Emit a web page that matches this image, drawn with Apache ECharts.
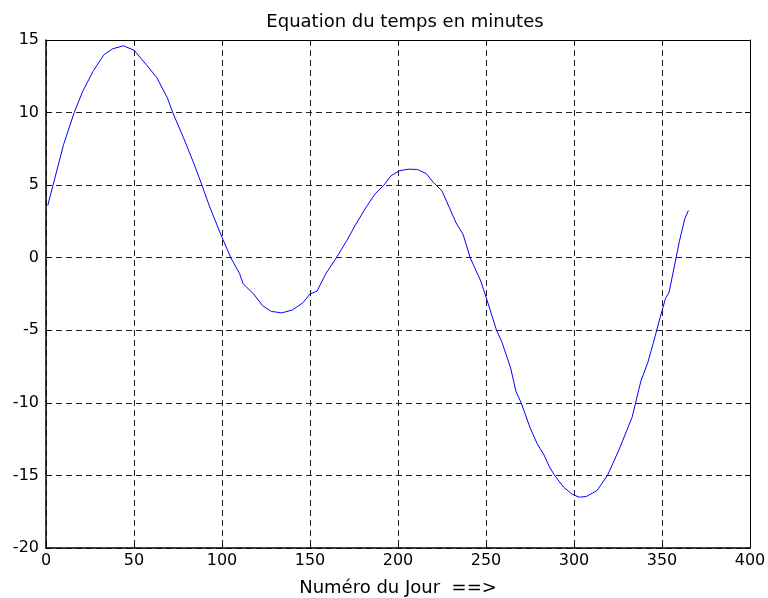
<!DOCTYPE html>
<html>
<head>
<meta charset="utf-8">
<script src="https://cdn.jsdelivr.net/npm/echarts@6/dist/echarts.min.js"></script>
<style>
  html, body { margin: 0; padding: 0; background: #fff; }
  #chart { width: 768px; height: 598px; }
</style>
</head>
<body>
<div id="chart"></div>
<script>
// day numbers
const days = [
  1, 4, 10, 16, 21, 27, 33, 38, 44, 50, 57, 63, 69, 72, 78, 84, 88, 93, 100, 105,
  110, 112, 118, 123, 128, 134, 140, 146, 150, 154, 159, 165, 171, 176, 182, 187, 192, 196, 201, 206,
  211, 216, 220, 225, 229, 233, 237, 241, 247, 250, 256, 259, 264, 267, 270, 275, 279, 283, 286, 289,
  294, 299, 303, 307, 313, 319, 322, 326, 330, 333, 335, 338, 342, 345, 347, 349, 352, 354, 358, 360,
  363, 365
];
// equation of time, minutes
const minutes = [
  3.6, 5.0, 7.8, 10.0, 11.5, 12.9, 14.0, 14.4, 14.6, 14.3, 13.3, 12.4, 11.0, 10.0, 8.3, 6.5, 5.2, 3.5, 1.4, 0.0,
  -1.1, -1.8, -2.5, -3.3, -3.7, -3.8, -3.6, -3.1, -2.5, -2.3, -1.1, 0.0, 1.2, 2.3, 3.5, 4.4, 5.0, 5.65, 6.0, 6.1,
  6.08, 5.8, 5.2, 4.6, 3.5, 2.4, 1.6, 0.0, -1.6, -2.7, -5.0, -5.8, -7.6, -9.2, -10.0, -11.7, -12.8, -13.6, -14.4, -15.0,
  -15.8, -16.3, -16.5, -16.45, -16.05, -15.0, -14.2, -13.1, -11.9, -11.0, -10.0, -8.5, -7.2, -5.9, -5.0, -4.1, -2.8, -2.4, 0.0, 1.2,
  2.7, 3.25
];

const xTicks = { min: 0, max: 400, interval: 50 };
const yTicks = { min: -20, max: 15, interval: 5 };

const font = "DejaVu Sans, Verdana, sans-serif";
const gridLine = { show: true, lineStyle: { color: "#222", type: [6, 4], width: 1 } };

const chart = echarts.init(document.getElementById("chart"), null, { renderer: "canvas" });
chart.setOption({
  animation: false,
  title: {
    text: "Equation du temps en minutes",
    left: 400,
    top: 8,
    textAlign: "center",
    textStyle: { fontFamily: font, fontSize: 18, fontWeight: "normal", color: "#000" },
  },
  grid: { left: 46, right: 18, top: 40, bottom: 50, containLabel: false, outerBoundsMode: "none" },
  xAxis: [
    {
      type: "value",
      ...xTicks,
      name: "Numéro du Jour  ==>",
      nameLocation: "middle",
      nameGap: 31,
      nameTextStyle: { fontFamily: font, fontSize: 18, color: "#000" },
      axisLine: { show: true, onZero: false, lineStyle: { color: "#000", width: 1.5 } },
      axisTick: { show: true, inside: true, length: 5, lineStyle: { color: "#000" } },
      axisLabel: { fontFamily: font, fontSize: 16, color: "#000", margin: 5 },
      splitLine: gridLine,
    },
    {
      type: "value",
      ...xTicks,
      position: "top",
      axisLine: { show: true, onZero: false, lineStyle: { color: "#000", width: 1 } },
      axisTick: { show: true, inside: true, length: 5, lineStyle: { color: "#000" } },
      axisLabel: { show: false },
      splitLine: { show: false },
    },
  ],
  yAxis: [
    {
      type: "value",
      ...yTicks,
      axisLine: { show: true, onZero: false, lineStyle: { color: "#000", width: 1.5 } },
      axisTick: { show: true, inside: true, length: 5, lineStyle: { color: "#000" } },
      axisLabel: { fontFamily: font, fontSize: 16, color: "#000", margin: 7 },
      splitLine: gridLine,
    },
    {
      type: "value",
      ...yTicks,
      position: "right",
      axisLine: { show: true, onZero: false, lineStyle: { color: "#000", width: 1 } },
      axisTick: { show: true, inside: true, length: 5, lineStyle: { color: "#000" } },
      axisLabel: { show: false },
      splitLine: { show: false },
    },
  ],
  series: [
    {
      type: "line",
      data: days.map((d, i) => [d, minutes[i]]),
      showSymbol: false,
      smooth: false,
      lineStyle: { color: "#0000ff", width: 1 },
      itemStyle: { color: "#0000ff" },
    },
  ],
});
</script>
</body>
</html>
